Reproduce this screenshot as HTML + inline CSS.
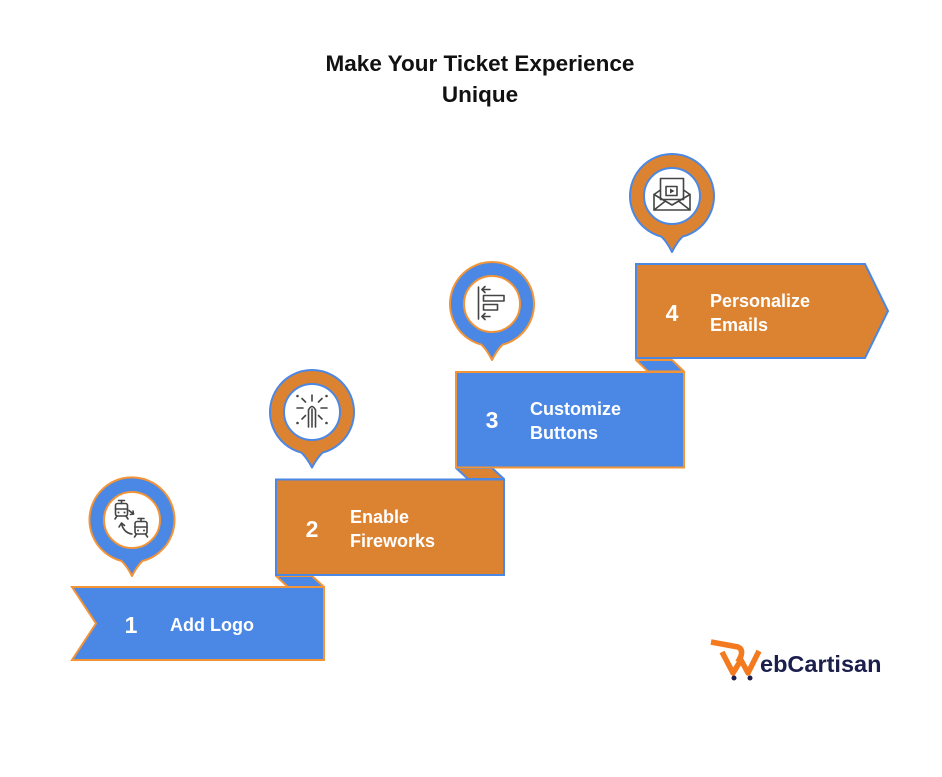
<!DOCTYPE html>
<html>
<head>
<meta charset="utf-8">
<style>
  html,body{margin:0;padding:0;background:#fff;}
  svg{display:block;}
  .t{font-family:"Liberation Sans",Arial,sans-serif;font-weight:bold;}
</style>
</head>
<body>
<svg width="942" height="777" viewBox="0 0 942 777" xmlns="http://www.w3.org/2000/svg">
  <rect width="942" height="777" fill="#fff"/>

  <!-- Title -->
  <text class="t" x="480" y="71" font-size="22.5" text-anchor="middle" fill="#111">Make Your Ticket Experience</text>
  <text class="t" x="480" y="102" font-size="22.5" text-anchor="middle" fill="#111">Unique</text>

  <!-- Folds -->
  <polygon points="276,576 312,576 324,587 288,587" fill="#4B87E4" stroke="#F39437" stroke-width="2" stroke-linejoin="round"/>
  <polygon points="456,468 492,468 504,479 468,479" fill="#DC8331" stroke="#4B87E4" stroke-width="2" stroke-linejoin="round"/>
  <polygon points="636,360 672,360 684,371.5 648,371.5" fill="#4B87E4" stroke="#F39437" stroke-width="2" stroke-linejoin="round"/>

  <!-- Step 1 -->
  <polygon points="72,587 324,587 324,660 72,660 96,623.5" fill="#4B87E4" stroke="#F39437" stroke-width="2"/>
  <!-- Step 2 -->
  <rect x="276" y="479.5" width="228" height="95.5" fill="#DC8331" stroke="#4B87E4" stroke-width="2"/>
  <!-- Step 3 -->
  <rect x="456" y="372" width="228" height="95.5" fill="#4B87E4" stroke="#F39437" stroke-width="2"/>
  <!-- Step 4 -->
  <polygon points="636,264 865,264 888,311 865,358 636,358" fill="#DC8331" stroke="#4B87E4" stroke-width="2"/>

  <!-- Step texts -->
  <g class="t" fill="#fff">
    <text x="131" y="633" font-size="23" text-anchor="middle">1</text>
    <text x="170" y="631" font-size="18">Add Logo</text>

    <text x="312" y="537" font-size="23" text-anchor="middle">2</text>
    <text x="350" y="523" font-size="18">Enable</text>
    <text x="350" y="547" font-size="18">Fireworks</text>

    <text x="492" y="428" font-size="23" text-anchor="middle">3</text>
    <text x="530" y="415" font-size="18">Customize</text>
    <text x="530" y="439" font-size="18">Buttons</text>

    <text x="672" y="321" font-size="23" text-anchor="middle">4</text>
    <text x="710" y="307" font-size="18">Personalize</text>
    <text x="710" y="331" font-size="18">Emails</text>
  </g>

  <!-- Pins -->
  <!-- pin 1 -->
  <path d="M121.5,561 Q127,566 132,576 Q137,566 142.5,561 A42.5,42.5 0 1 0 121.5,561 Z" fill="#4B87E4" stroke="#F39437" stroke-width="2" stroke-linejoin="round"/>
  <circle cx="132" cy="520" r="28" fill="#fff" stroke="#F39437" stroke-width="2"/>
  <!-- pin 2 -->
  <path d="M301.5,452.7 Q307,458 312,467.5 Q317,458 322.5,452.7 A42,42 0 1 0 301.5,452.7 Z" fill="#DC8331" stroke="#4B87E4" stroke-width="2" stroke-linejoin="round"/>
  <circle cx="312" cy="412" r="28" fill="#fff" stroke="#4B87E4" stroke-width="2"/>
  <!-- pin 3 -->
  <path d="M481.5,344.7 Q487,350 492,360 Q497,350 502.5,344.7 A42,42 0 1 0 481.5,344.7 Z" fill="#4B87E4" stroke="#F39437" stroke-width="2" stroke-linejoin="round"/>
  <circle cx="492" cy="304" r="28" fill="#fff" stroke="#F39437" stroke-width="2"/>
  <!-- pin 4 -->
  <path d="M661.5,236.7 Q667,242 672,252 Q677,242 682.5,236.7 A42,42 0 1 0 661.5,236.7 Z" fill="#DC8331" stroke="#4B87E4" stroke-width="2" stroke-linejoin="round"/>
  <circle cx="672" cy="196" r="28" fill="#fff" stroke="#4B87E4" stroke-width="2"/>

  <!-- Icon 1: trains exchange -->
  <g fill="none" stroke="#444" stroke-width="1.6" stroke-linecap="round" stroke-linejoin="round">
    <rect x="115.5" y="503.5" width="12" height="12.5" rx="2"/>
    <line x1="115.5" y1="509" x2="127.5" y2="509"/>
    <line x1="118.5" y1="500.5" x2="124.5" y2="500.5"/>
    <line x1="121.5" y1="500.5" x2="121.5" y2="503.5"/>
    <line x1="117" y1="516" x2="115" y2="519"/>
    <line x1="126" y1="516" x2="128" y2="519"/>
    <rect x="135" y="521.5" width="12" height="12.5" rx="2"/>
    <line x1="135" y1="527" x2="147" y2="527"/>
    <line x1="138" y1="518.5" x2="144" y2="518.5"/>
    <line x1="141" y1="518.5" x2="141" y2="521.5"/>
    <line x1="136.5" y1="534" x2="134.5" y2="537"/>
    <line x1="145.5" y1="534" x2="147.5" y2="537"/>
    <path d="M129,510.5 L133.5,514"/>
    <path d="M130.5,514.5 L133.5,514 L133,511"/>
    <path d="M132,534 Q124,533 121.5,524"/>
    <path d="M119,527 L121.5,523 L124.5,525.5"/>
  </g>
  <g fill="#444">
    <circle cx="118.5" cy="512.5" r="1"/><circle cx="124.5" cy="512.5" r="1"/>
    <circle cx="138" cy="530.5" r="1"/><circle cx="144" cy="530.5" r="1"/>
  </g>

  <!-- Icon 2: fireworks -->
  <g fill="none" stroke="#444" stroke-width="1.6" stroke-linecap="round">
    <path d="M308.5,427 V410 Q312,403 315.5,410 V427"/>
    <line x1="312" y1="409" x2="312" y2="427"/>
    <line x1="312" y1="395" x2="312" y2="401"/>
    <line x1="302" y1="398.5" x2="305.5" y2="402"/>
    <line x1="322" y1="398.5" x2="318.5" y2="402"/>
    <line x1="297" y1="408" x2="303" y2="408"/>
    <line x1="321" y1="408" x2="327" y2="408"/>
    <line x1="302" y1="419" x2="305.5" y2="415.5"/>
    <line x1="322" y1="419" x2="318.5" y2="415.5"/>
  </g>
  <g fill="#444">
    <circle cx="297.5" cy="396" r="1.3"/><circle cx="326.5" cy="396" r="1.3"/>
    <circle cx="297.5" cy="423" r="1.3"/><circle cx="326.5" cy="423" r="1.3"/>
  </g>

  <!-- Icon 3: align left -->
  <g fill="none" stroke="#444" stroke-width="1.6" stroke-linecap="round" stroke-linejoin="round">
    <line x1="478.5" y1="287" x2="478.5" y2="319"/>
    <line x1="482" y1="289.5" x2="490" y2="289.5"/>
    <path d="M485,286.5 L482,289.5 L485,292.5"/>
    <line x1="482" y1="316.5" x2="490" y2="316.5"/>
    <path d="M485,313.5 L482,316.5 L485,319.5"/>
    <rect x="483.5" y="295.5" width="20.5" height="5.5"/>
    <rect x="483.5" y="304.5" width="14" height="5.5"/>
  </g>

  <!-- Icon 4: email with video -->
  <g fill="none" stroke="#444" stroke-width="1.6" stroke-linecap="round" stroke-linejoin="round">
    <path d="M660.5,190 L654,194.5 V210 H690 V194.5 L683.5,190"/>
    <rect x="660.5" y="178.5" width="23" height="21" fill="#fff"/>
    <path d="M654,194.5 L672,205 L690,194.5"/>
    <path d="M654,210 L665.5,201"/>
    <path d="M690,210 L678.5,201"/>
    <rect x="666" y="186.5" width="11" height="9"/>
  </g>
  <path d="M670,188.5 L674.5,191 L670,193.5 Z" fill="#444"/>

  <!-- Logo -->
  <g fill="none" stroke="#F47A1F" stroke-width="5.5" stroke-linecap="butt" stroke-linejoin="round">
    <path d="M711,642 L738,647 Q743,649 741,656 L738,662"/>
    <path d="M722,652 L733,673 L741,660 L748,673 L759,651"/>
  </g>
  <text class="t" x="760" y="672" font-size="23.5" fill="#1B1F4B">ebCartisan</text>
  <circle cx="734" cy="678" r="2.5" fill="#1B1F4B"/>
  <circle cx="750" cy="678" r="2.5" fill="#1B1F4B"/>
</svg>
</body>
</html>
